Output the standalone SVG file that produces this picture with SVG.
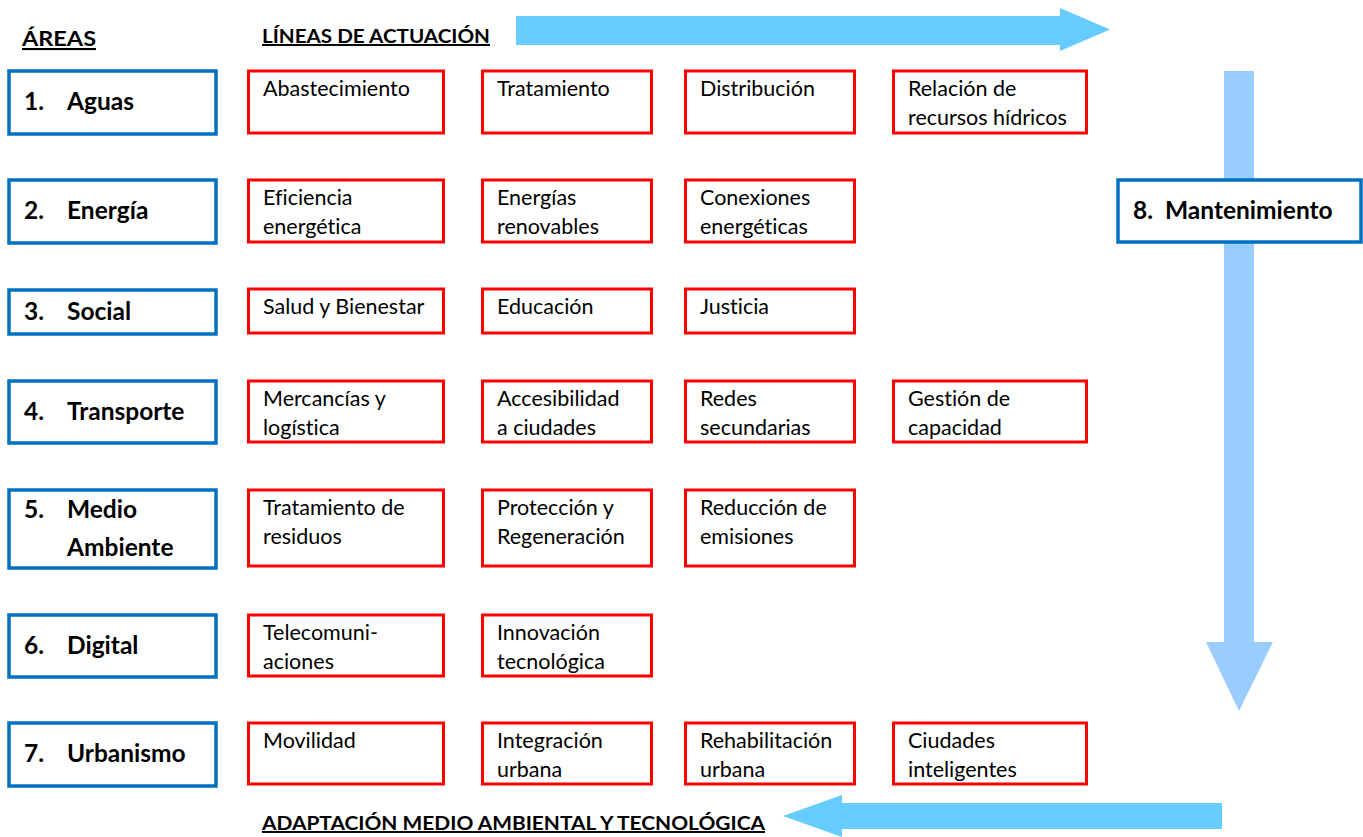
<svg xmlns="http://www.w3.org/2000/svg" width="1363" height="837" viewBox="0 0 1363 837">
<style>
.area{fill:#fff;stroke:#0070C0;stroke-width:3.5}
.line{fill:#fff;stroke:#FF0000;stroke-width:3}
text{font-variant-ligatures:none;font-feature-settings:"liga" 0,"dlig" 0}
.at{font-family:Lato,"Open Sans",sans-serif;font-weight:bold;font-size:24.5px;fill:#000}
.lt{font-family:Lato,"Open Sans",sans-serif;font-size:21.5px;fill:#000}
.hd{font-family:Lato,"Open Sans",sans-serif;font-weight:bold;font-size:19.5px;fill:#000;text-decoration:underline}
</style>
<rect width="1363" height="837" fill="#fff"/>
<g id="connectors">
<polygon points="516,16 1060,16 1060,8 1110,29.5 1060,51 1060,45 516,45" fill="#66CCFF"/>
<polygon points="1224,71 1254,71 1254,642 1273,642 1239,711 1206,642 1224,642" fill="#99CCFF"/>
<polygon points="1222,803 842,803 842,795 783,816 842,837 842,829 1222,829" fill="#66CCFF"/>
</g>
<g id="headers">
<text class="hd" x="22" y="46" textLength="74" lengthAdjust="spacingAndGlyphs" style="font-size:21px">ÁREAS</text>
<text class="hd" x="262" y="43" textLength="228" lengthAdjust="spacingAndGlyphs">LÍNEAS DE ACTUACIÓN</text>
<text class="hd" x="262" y="830" textLength="503" lengthAdjust="spacingAndGlyphs">ADAPTACIÓN MEDIO AMBIENTAL Y TECNOLÓGICA</text>
</g>
<g id="area1"><rect class="area" x="9" y="71" width="207" height="63"/><text class="at" x="24" y="110">1.</text><text class="at" x="67" y="110">Aguas</text></g>
<g id="area2"><rect class="area" x="9" y="180" width="207" height="63"/><text class="at" x="24" y="219">2.</text><text class="at" x="67" y="219">Energía</text></g>
<g id="area3"><rect class="area" x="9" y="290" width="207" height="44"/><text class="at" x="24" y="320">3.</text><text class="at" x="67" y="320">Social</text></g>
<g id="area4"><rect class="area" x="9" y="381" width="207" height="62"/><text class="at" x="24" y="420">4.</text><text class="at" x="67" y="420">Transporte</text></g>
<g id="area5"><rect class="area" x="9" y="490" width="207" height="78"/><text class="at" x="24" y="518">5.</text><text class="at" x="67" y="518">Medio</text><text class="at" x="67" y="556">Ambiente</text></g>
<g id="area6"><rect class="area" x="9" y="615" width="207" height="62"/><text class="at" x="24" y="654">6.</text><text class="at" x="67" y="654">Digital</text></g>
<g id="area7"><rect class="area" x="9" y="723" width="207" height="63"/><text class="at" x="24" y="762">7.</text><text class="at" x="67" y="762">Urbanismo</text></g>
<g id="area8"><rect class="area" x="1118" y="180" width="243" height="62"/><text class="at" x="1133" y="219">8.</text><text class="at" x="1165" y="219">Mantenimiento</text></g>

<g id="r1c1"><rect class="line" x="248.5" y="71" width="195" height="62"/><text class="lt" x="263" y="96">Abastecimiento</text></g>
<g id="r1c2"><rect class="line" x="482.5" y="71" width="169" height="62"/><text class="lt" x="497" y="96">Tratamiento</text></g>
<g id="r1c3"><rect class="line" x="685.5" y="71" width="169" height="62"/><text class="lt" x="700" y="96">Distribución</text></g>
<g id="r1c4"><rect class="line" x="893.5" y="71" width="193" height="62"/><text class="lt" x="908" y="96">Relación de</text><text class="lt" x="908" y="125">recursos hídricos</text></g>

<g id="r2c1"><rect class="line" x="248.5" y="180" width="195" height="62"/><text class="lt" x="263" y="205">Eficiencia</text><text class="lt" x="263" y="234">energética</text></g>
<g id="r2c2"><rect class="line" x="482.5" y="180" width="169" height="62"/><text class="lt" x="497" y="205">Energías</text><text class="lt" x="497" y="234">renovables</text></g>
<g id="r2c3"><rect class="line" x="685.5" y="180" width="169" height="62"/><text class="lt" x="700" y="205">Conexiones</text><text class="lt" x="700" y="234">energéticas</text></g>

<g id="r3c1"><rect class="line" x="248.5" y="289" width="195" height="44"/><text class="lt" x="263" y="314">Salud y Bienestar</text></g>
<g id="r3c2"><rect class="line" x="482.5" y="289" width="169" height="44"/><text class="lt" x="497" y="314">Educación</text></g>
<g id="r3c3"><rect class="line" x="685.5" y="289" width="169" height="44"/><text class="lt" x="700" y="314">Justicia</text></g>

<g id="r4c1"><rect class="line" x="248.5" y="381" width="195" height="61"/><text class="lt" x="263" y="406">Mercancías y</text><text class="lt" x="263" y="435">logística</text></g>
<g id="r4c2"><rect class="line" x="482.5" y="381" width="169" height="61"/><text class="lt" x="497" y="406">Accesibilidad</text><text class="lt" x="497" y="435">a ciudades</text></g>
<g id="r4c3"><rect class="line" x="685.5" y="381" width="169" height="61"/><text class="lt" x="700" y="406">Redes</text><text class="lt" x="700" y="435">secundarias</text></g>
<g id="r4c4"><rect class="line" x="893.5" y="381" width="193" height="61"/><text class="lt" x="908" y="406">Gestión de</text><text class="lt" x="908" y="435">capacidad</text></g>

<g id="r5c1"><rect class="line" x="248.5" y="490" width="195" height="76"/><text class="lt" x="263" y="515">Tratamiento de</text><text class="lt" x="263" y="544">residuos</text></g>
<g id="r5c2"><rect class="line" x="482.5" y="490" width="169" height="76"/><text class="lt" x="497" y="515">Protección y</text><text class="lt" x="497" y="544">Regeneración</text></g>
<g id="r5c3"><rect class="line" x="685.5" y="490" width="169" height="76"/><text class="lt" x="700" y="515">Reducción de</text><text class="lt" x="700" y="544">emisiones</text></g>

<g id="r6c1"><rect class="line" x="248.5" y="615" width="195" height="61"/><text class="lt" x="263" y="640">Telecomuni-</text><text class="lt" x="263" y="669">aciones</text></g>
<g id="r6c2"><rect class="line" x="482.5" y="615" width="169" height="61"/><text class="lt" x="497" y="640">Innovación</text><text class="lt" x="497" y="669">tecnológica</text></g>

<g id="r7c1"><rect class="line" x="248.5" y="723" width="195" height="61"/><text class="lt" x="263" y="748">Movilidad</text></g>
<g id="r7c2"><rect class="line" x="482.5" y="723" width="169" height="61"/><text class="lt" x="497" y="748">Integración</text><text class="lt" x="497" y="777">urbana</text></g>
<g id="r7c3"><rect class="line" x="685.5" y="723" width="169" height="61"/><text class="lt" x="700" y="748">Rehabilitación</text><text class="lt" x="700" y="777">urbana</text></g>
<g id="r7c4"><rect class="line" x="893.5" y="723" width="193" height="61"/><text class="lt" x="908" y="748">Ciudades</text><text class="lt" x="908" y="777">inteligentes</text></g>
</svg>
